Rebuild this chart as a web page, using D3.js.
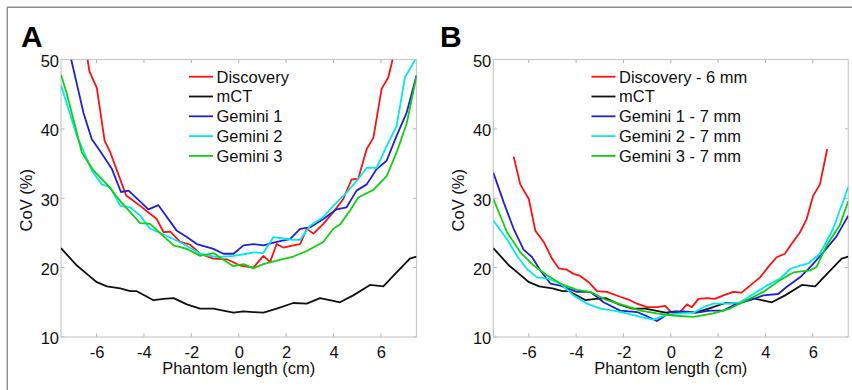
<!DOCTYPE html>
<html><head><meta charset="utf-8">
<script src="https://cdn.jsdelivr.net/npm/d3@7"></script>
<style>
body{margin:0;background:#fff;}
svg{display:block;font-family:"Liberation Sans",Arial,Helvetica,sans-serif;}
</style></head>
<body>
<script>
// ---- data (x in cm, CoV in %) ----
const mctX = [-7.5,-6.83,-6.41,-5.99,-5.56,-5.0,-4.58,-4.3,-3.6,-3.17,-2.75,-2.19,-1.63,-1.07,-0.65,-0.22,0.2,0.62,1.04,1.6,2.3,2.87,3.43,3.99,4.27,4.83,5.54,6.1,6.66,7.22,7.5];
const mctY = [22.8,20.3,19.1,17.9,17.3,17.0,16.6,16.6,15.3,15.5,15.6,14.7,14.1,14.1,13.8,13.5,13.7,13.6,13.5,14.1,14.9,14.8,15.6,15.2,15.0,16.0,17.5,17.3,19.3,21.3,21.6];

// Panel A
const discAX = [-6.38,-6.3,-5.99,-5.66,-5.42,-4.75,-4.16,-3.46,-3.17,-2.89,-2.47,-2.05,-1.63,-1.07,-0.5,0.06,0.62,1.04,1.32,1.6,1.88,2.3,2.59,2.87,3.15,3.57,3.99,4.41,4.76,5.04,5.4,5.68,6.03,6.31,6.49];
const discAY = [50,48.3,45.9,38.3,36.6,30.4,28.9,27.0,25.1,25.2,23.7,23.3,22.0,21.3,21.2,20.3,20.0,21.7,20.8,23.4,22.9,23.2,23.4,25.6,24.9,26.3,28.0,29.9,32.7,32.8,37.1,38.7,45.8,47.4,50];
const gem1AX = [-7.07,-6.55,-6.2,-5.85,-5.35,-4.97,-4.65,-3.81,-3.39,-2.61,-2.19,-1.77,-1.07,-0.65,-0.22,0.2,0.62,1.04,1.6,2.16,2.59,3.0,3.57,4.13,4.55,4.97,5.4,5.82,6.24,6.66,7.08,7.5];
const gem1AY = [50,42.3,38.5,36.8,34.2,30.9,31.1,28.4,29.0,25.3,24.4,23.4,22.7,22.0,22.0,23.2,23.4,23.2,23.7,24.1,25.6,25.8,27.0,28.4,28.7,31.1,32.0,34.2,35.4,39.0,42.3,47.7];
const gem2AX = [-7.5,-6.83,-6.2,-5.78,-5.42,-5.0,-4.58,-4.16,-3.74,-3.04,-2.33,-1.63,-0.93,-0.22,0.34,0.62,1.04,1.46,1.88,2.3,2.59,3.0,3.57,3.99,4.55,5.04,5.4,5.82,6.24,6.66,7.01,7.45];
const gem2AY = [46.3,39.0,34.0,32.0,31.6,28.9,28.7,27.5,25.6,24.6,23.4,22.0,21.5,21.7,22.0,22.2,22.1,24.4,24.2,24.0,24.0,26.0,27.3,28.9,30.8,32.8,34.4,34.4,37.5,40.4,47.4,50];
const gem3AX = [-7.5,-7.25,-6.62,-6.13,-5.56,-5.0,-4.16,-3.74,-2.75,-2.19,-1.63,-1.07,-0.5,-0.22,0.2,0.62,1.04,1.6,2.3,2.87,3.57,3.99,4.27,4.69,5.04,5.68,6.24,6.66,7.08,7.5];
const gem3AY = [47.8,45.0,36.6,34.0,32.0,29.6,26.4,26.3,23.2,22.7,21.7,22.1,20.8,20.2,20.5,19.9,20.5,21.0,21.6,22.4,23.7,25.6,26.2,28.2,30.1,31.2,33.2,36.6,40.7,47.6];

// Panel B
const discBX = [-6.64,-6.36,-6.0,-5.72,-5.37,-5.02,-4.74,-4.39,-4.11,-3.83,-3.47,-3.12,-2.7,-2.14,-1.79,-1.43,-1.01,-0.59,-0.24,0.04,0.39,0.68,0.89,1.17,1.52,1.87,2.22,2.64,2.99,3.35,3.77,4.12,4.47,4.82,5.1,5.46,5.74,6.02,6.3,6.61];
const discBY = [36.0,32.0,29.9,25.3,23.7,21.3,19.9,19.7,19.1,18.8,17.9,16.6,16.5,15.8,15.4,14.8,14.3,14.3,14.5,13.5,13.6,14.7,14.3,15.5,15.6,15.5,16.0,16.5,16.4,17.4,18.6,20.1,21.5,22.0,23.4,25.1,27.0,30.4,32.0,37.1];
const gem1BX = [-7.5,-7.06,-6.64,-6.22,-5.86,-5.51,-5.09,-4.67,-3.97,-3.4,-2.84,-2.14,-1.43,-1.01,-0.59,-0.31,-0.03,0.53,1.1,1.66,2.22,2.78,3.35,3.91,4.54,4.89,5.46,5.95,6.44,7.0,7.5];
const gem1BY = [33.7,29.4,25.6,22.6,21.5,19.6,17.7,17.4,16.5,16.5,15.0,13.8,13.6,13.0,12.3,12.9,13.6,13.7,13.5,13.8,13.8,14.8,15.3,16.0,16.2,17.2,18.6,20.3,22.2,24.5,27.5];
const gem2BX = [-7.5,-6.92,-6.5,-6.08,-5.65,-5.16,-4.67,-4.11,-3.54,-2.98,-2.42,-1.86,-1.29,-0.73,-0.17,0.39,0.96,1.38,1.8,2.36,2.93,3.49,4.05,4.61,5.04,5.46,5.81,6.3,6.86,7.5];
const gem2BY = [26.8,24.1,21.7,19.8,18.6,18.4,17.7,16.0,14.8,14.1,13.8,13.4,12.9,12.5,13.2,13.4,13.5,14.3,14.8,14.8,15.0,16.2,17.4,18.4,19.8,20.3,20.6,22.0,25.6,31.6];
const gem3BX = [-7.5,-6.92,-6.36,-5.79,-5.23,-4.67,-3.97,-3.4,-2.7,-2.0,-1.29,-0.59,0.11,0.96,1.8,2.5,3.21,3.91,4.61,5.18,5.88,6.16,6.58,7.14,7.5];
const gem3BY = [29.9,25.1,22.2,20.3,18.9,17.7,16.8,16.5,15.3,14.6,13.8,13.4,13.1,12.9,13.4,14.1,15.3,16.5,18.2,19.3,19.6,20.1,23.2,26.1,29.6];

const seriesNamesA = ["Discovery","mCT","Gemini 1","Gemini 2","Gemini 3"];
const seriesNamesB = ["Discovery - 6 mm","mCT","Gemini 1 - 7 mm","Gemini 2 - 7 mm","Gemini 3 - 7 mm"];
const seriesColors = ["#ff1010","#111111","#2020d8","#00e8f0","#10d010"];
const xTicks = [-6,-4,-2,0,2,4,6];
const yTicks = [10,20,30,40,50];
const xLabel = "Phantom length (cm)";
const yLabel = "CoV (%)";

const zip = (xs, ys) => xs.map((x,i)=>[x, ys[i]]);
const panels = [
  {letter:"A", names:seriesNamesA, left:61, right:416.5, letterX:21,
   data:[zip(discAX,discAY), zip(mctX,mctY), zip(gem1AX,gem1AY), zip(gem2AX,gem2AY), zip(gem3AX,gem3AY)], legX:189},
  {letter:"B", names:seriesNamesB, left:493.3, right:848.3, letterX:440,
   data:[zip(discBX,discBY), zip(mctX,mctY), zip(gem1BX,gem1BY), zip(gem2BX,gem2BY), zip(gem3BX,gem3BY)], legX:591.5}
];

const W=852, H=390, plotTop=59.5, plotBottom=337;
const svg = d3.select("body").append("svg").attr("width",W).attr("height",H);

// outer frame
svg.append("line").attr("x1",7).attr("x2",W).attr("y1",7.3).attr("y2",7.3).attr("stroke","#8c8c8c").attr("stroke-width",1.4);
svg.append("line").attr("x1",7.3).attr("x2",7.3).attr("y1",7).attr("y2",H).attr("stroke","#8c8c8c").attr("stroke-width",1.4);

panels.forEach((p,pi)=>{
  const x = d3.scaleLinear().domain([-7.5,7.5]).range([p.left,p.right]);
  const y = d3.scaleLinear().domain([10,50]).range([plotBottom,plotTop]);
  const g = svg.append("g");
  const clipId = "clip"+pi;
  svg.append("clipPath").attr("id",clipId).append("rect")
    .attr("x",p.left).attr("y",plotTop).attr("width",p.right-p.left).attr("height",plotBottom-plotTop);

  // axes
  const axB = d3.axisBottom(x).tickValues(xTicks).tickSize(0).tickPadding(9).tickFormat(d3.format("d"));
  const axL = d3.axisLeft(y).tickValues(yTicks).tickSize(0).tickPadding(2);
  const gx = g.append("g").attr("transform",`translate(0,${plotBottom})`).call(axB);
  const gy = g.append("g").attr("transform",`translate(${p.left},0)`).call(axL);
  [gx,gy].forEach(a=>{a.select(".domain").remove(); a.selectAll("text").attr("font-size",16.5).attr("fill","#111").attr("font-family","Liberation Sans, Arial, sans-serif");});
  gx.selectAll("text").text(d=> d<0 ? "-"+Math.abs(d) : d);
  gy.selectAll("text").attr("dy","0.42em");

  // inner ticks
  xTicks.forEach(t=>{
    g.append("line").attr("x1",x(t)).attr("x2",x(t)).attr("y1",plotBottom).attr("y2",plotBottom-3.5).attr("stroke","#b0b0b0");
    g.append("line").attr("x1",x(t)).attr("x2",x(t)).attr("y1",plotTop).attr("y2",plotTop+3.5).attr("stroke","#b0b0b0");
  });
  yTicks.forEach(t=>{
    g.append("line").attr("x1",p.left).attr("x2",p.left+3.5).attr("y1",y(t)).attr("y2",y(t)).attr("stroke","#b0b0b0");
    g.append("line").attr("x1",p.right).attr("x2",p.right-3.5).attr("y1",y(t)).attr("y2",y(t)).attr("stroke","#b0b0b0");
  });
  // box
  g.append("rect").attr("x",p.left).attr("y",plotTop).attr("width",p.right-p.left).attr("height",plotBottom-plotTop)
    .attr("fill","none").attr("stroke","#c8c8c8").attr("stroke-width",1.2);

  // lines
  const line = d3.line().x(d=>x(d[0])).y(d=>y(d[1]));
  const lg = g.append("g").attr("clip-path",`url(#${clipId})`);
  p.data.forEach((s,i)=>{
    lg.append("path").datum(s).attr("d",line).attr("fill","none")
      .attr("stroke",seriesColors[i]).attr("stroke-width",1.8).attr("stroke-linejoin","round");
  });

  // legend
  p.names.forEach((n,i)=>{
    const yy = 76.7 + i*19.8;
    g.append("line").attr("x1",p.legX).attr("x2",p.legX+24).attr("y1",yy).attr("y2",yy)
      .attr("stroke",seriesColors[i]).attr("stroke-width",1.8);
    g.append("text").attr("x",p.legX+27.5).attr("y",yy).attr("dy","0.36em")
      .attr("font-size",16.5).attr("fill","#111").text(n);
  });

  // axis labels
  g.append("text").attr("x",(p.left+p.right)/2).attr("y",374).attr("text-anchor","middle")
    .attr("font-size",16.5).attr("fill","#111").text(xLabel);
  g.append("text").attr("transform",`translate(${p.left-29},${(plotTop+plotBottom)/2+2}) rotate(-90)`)
    .attr("text-anchor","middle").attr("font-size",16.5).attr("fill","#111").text(yLabel);

  // panel letter
  g.append("text").attr("x",p.letterX).attr("y",47).attr("font-size",30).attr("font-weight","bold")
    .attr("fill","#000").text(p.letter);
});
</script>
</body></html>
